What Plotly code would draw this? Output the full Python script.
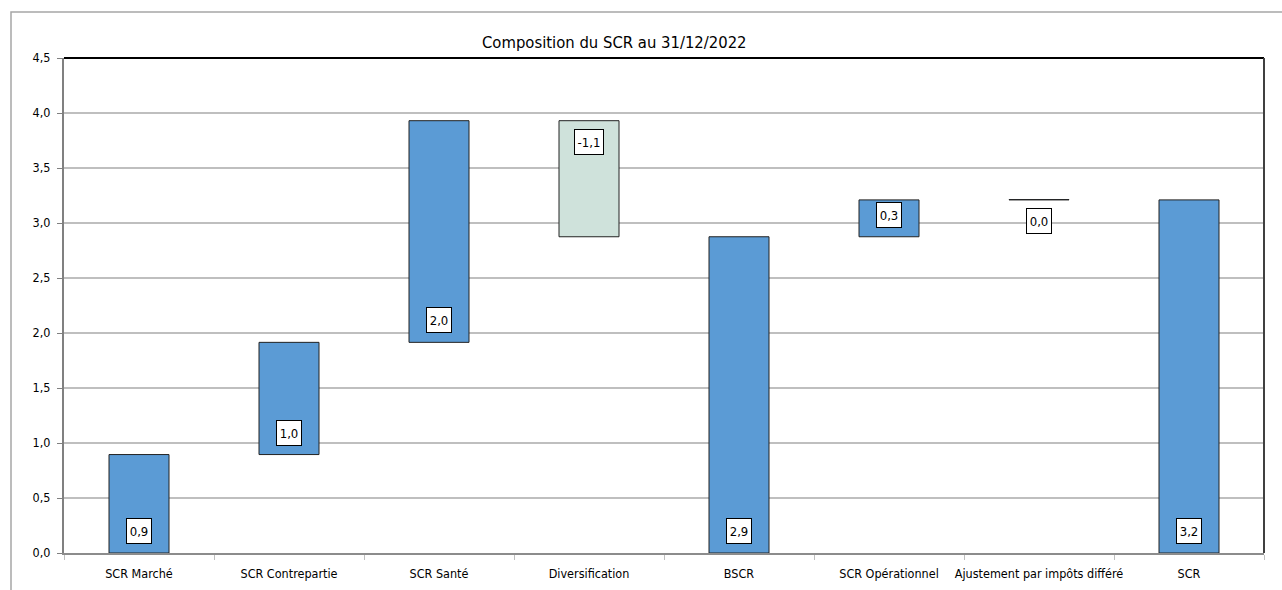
import plotly.graph_objects as go

categories = ["SCR Marché", "SCR Contrepartie", "SCR Santé", "Diversification",
              "BSCR", "SCR Opérationnel", "Ajustement par impôts différé", "SCR"]
values = [0.895, 1.02, 2.015, -1.055, 2.875, 0.335, 0.003, 3.21]
is_total = [False, False, False, False, True, False, False, True]
colors = ["#5B9BD5", "#5B9BD5", "#5B9BD5", "#CFE2DB", "#5B9BD5", "#5B9BD5", "#5B9BD5", "#5B9BD5"]
tick_vals = [0, 0.5, 1, 1.5, 2, 2.5, 3, 3.5, 4, 4.5]

bases = []
heights = []
running = 0.0
for v, t in zip(values, is_total):
    if t:
        bases.append(0.0)
        heights.append(v)
        running = v
    else:
        bases.append(running)
        heights.append(v)
        running += v

FONT = "DejaVu Sans Condensed"

fig = go.Figure()
fig.add_trace(go.Bar(
    x=categories, y=heights, base=bases,
    marker=dict(color=colors, line=dict(color="#222222", width=1)),
    width=0.4, hoverinfo="skip", showlegend=False,
))

annotations = []
for c, b, v in zip(categories, bases, heights):
    label = f"{v:.1f}".replace(".", ",")
    up = v > 0.01
    annotations.append(dict(
        x=c, y=b, xref="x", yref="y", text=label, showarrow=False,
        yanchor="bottom" if up else "top", yshift=9 if up else -8,
        width=22 if len(label) <= 3 else 26, height=22,
        align="center", valign="middle",
        bgcolor="white", bordercolor="black", borderwidth=1, borderpad=1,
        font=dict(family=FONT, size=13, color="black"),
    ))
annotations.append(dict(
    x=(614.5 - 64) / 1200, y=(553 - 42) / 495, xref="paper", yref="paper",
    text="Composition du SCR au 31/12/2022", showarrow=False,
    xanchor="center", yanchor="middle",
    font=dict(family=FONT, size=16.5, color="black"),
))

shapes = [
    dict(type="rect", xref="paper", yref="paper",
         x0=(11 - 64) / 1200, x1=(1300 - 64) / 1200,
         y0=(553 - 620) / 495, y1=(553 - 12) / 495,
         line=dict(color="#A6A6A6", width=1.5), layer="below"),
    dict(type="line", xref="paper", yref="paper", x0=0, x1=1, y0=1, y1=1,
         line=dict(color="black", width=2)),
    dict(type="line", xref="paper", yref="paper", x0=1, x1=1, y0=0, y1=1,
         line=dict(color="#404040", width=2)),
]

fig.update_layout(
    width=1282, height=590,
    margin=dict(l=64, r=18, t=58, b=37),
    paper_bgcolor="white", plot_bgcolor="white",
    separators=", ",
    annotations=annotations, shapes=shapes,
    font=dict(family=FONT, size=12, color="black"),
    xaxis=dict(
        showgrid=False, showline=True, linecolor="#8C8C8C", linewidth=2,
        ticks="outside", tickson="boundaries", ticklen=5, tickcolor="#BFBFBF",
        tickfont=dict(family=FONT, size=12.5, color="black"),
        tickangle=0, automargin=False, ticklabelstandoff=8,
        range=[-0.5, 7.5],
    ),
    yaxis=dict(
        range=[0, 4.5], tickvals=tick_vals, tickformat=".1f",
        showgrid=True, gridcolor="#BFBFBF", gridwidth=1.5,
        showline=True, linecolor="#808080", linewidth=2,
        ticks="outside", ticklen=5, tickcolor="#808080",
        tickfont=dict(family=FONT, size=12.5, color="black"),
        zeroline=False, automargin=False, ticklabelstandoff=4,
    ),
    bargap=0.6,
)

fig.write_html("out.html")
